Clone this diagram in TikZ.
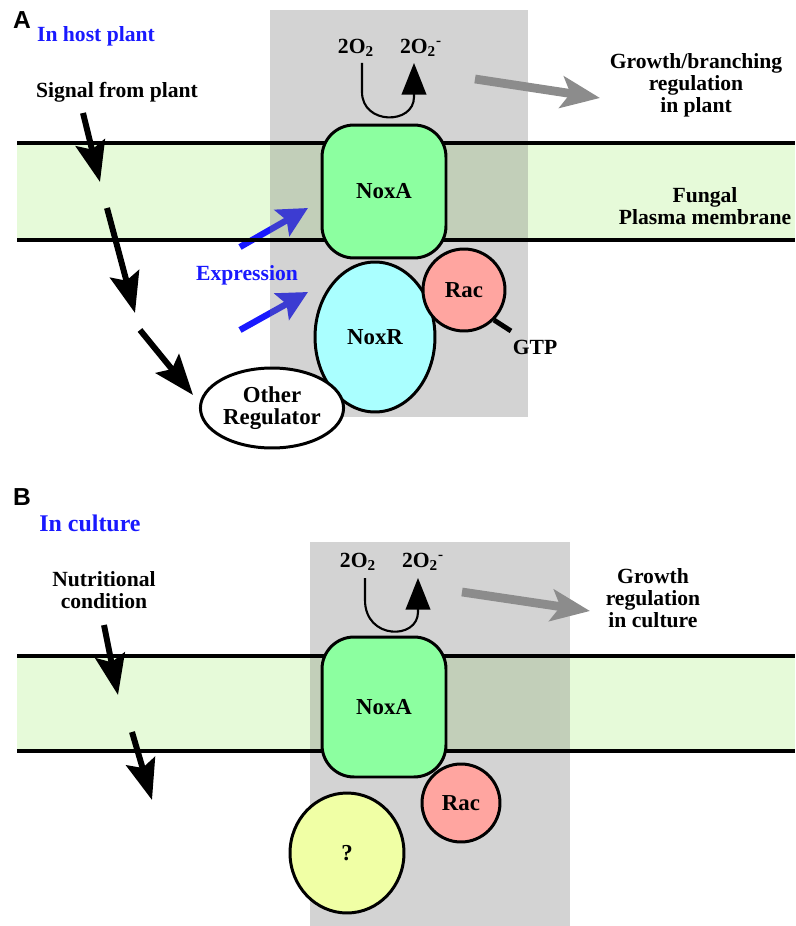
\documentclass[tikz,border=0pt]{standalone}
\usepackage{fontspec}
\setmainfont{Liberation Serif}
\setsansfont{Liberation Sans}
\usetikzlibrary{arrows.meta,shapes.geometric}
\definecolor{memgreen}{RGB}{230,250,217}
\definecolor{noxagreen}{RGB}{140,255,160}
\definecolor{noxrcyan}{RGB}{170,255,255}
\definecolor{racpink}{RGB}{255,165,160}
\definecolor{unkyellow}{RGB}{240,255,165}
\definecolor{exblue}{RGB}{25,25,255}
\definecolor{arrgray}{RGB}{140,140,140}
\tikzset{
  lbl/.style={font=\bfseries\fontsize{12.3}{12.6}\selectfont, align=center, inner sep=1pt},
  prot/.style={draw, line width=1.7pt, font=\bfseries\fontsize{13}{12.6}\selectfont, align=center, inner sep=1pt},
  noxa/.style={prot, fill=noxagreen, rounded corners=0.64cm, minimum width=2.48cm},
  graybox/.style={fill=gray, opacity=0.35},
  memline/.style={line width=2pt},
  sig/.style={line width=3.4pt, -{Stealth[length=23pt,width=17pt,inset=4pt]}},
  expr/.style={draw=exblue, line width=3.6pt, -{Stealth[length=17pt,width=17pt,inset=3pt]}},
  effect/.style={draw=arrgray, line width=5pt, -{Stealth[length=22pt,width=18pt,inset=5pt]}},
  uarr/.style={line width=1.2pt, -{Triangle[length=18pt,width=14pt]}}
}
\begin{document}
\begin{tikzpicture}[x=0.02cm,y=-0.02cm]
    \useasboundingbox (0,0) rectangle (795,926);
    \fill[memgreen] (17,143) rectangle (795,240);
    \fill[memgreen] (17,656) rectangle (795,751);

    \coordinate (xA1) at (240,247); \coordinate (xA2) at (308,208);
    \coordinate (xB1) at (240,330); \coordinate (xB2) at (308,292);
    \draw[expr] (xA1) -- (xA2);
    \draw[expr] (xB1) -- (xB2);

    \fill[graybox] (270,10) rectangle (528,417);
    \fill[graybox] (310,542) rectangle (570,926);
    \foreach \y in {143,240,656,751}
        \draw[memline] (17,\y) -- (795,\y);

    % panel A
    \node[noxa, minimum height=2.66cm] (noxaA) at (384,191.5) {NoxA};
    \node[prot, ellipse, fill=noxrcyan, minimum width=2.4cm, minimum height=3cm] (noxr) at (375,337) {NoxR};
    \node[prot, circle, fill=racpink, minimum size=1.64cm] (racA) at (464,290) {Rac};
    \node[prot, ellipse, fill=white, minimum width=2.7cm, minimum height=1.6cm] (other) at (272,408) {Other\\Regulator};
    \coordinate (gtpend) at (511,331);
    \draw[line width=2.8pt] (racA.-45) -- (gtpend);
    \node[lbl] (gtp) at (535,347) {GTP};

    \node[font=\sffamily\bfseries\fontsize{14}{14}\selectfont, inner sep=0pt] (labA) at (22,20) {A};
    \node[lbl, text=exblue] (host) at (96,36) {In host plant};
    \node[lbl] (signal) at (117,92) {Signal from plant};
    \node[lbl, text=exblue] (expression) at (247,275) {Expression};
    \node[lbl] (o2A) at (356,48) {2O\textsubscript{2}};
    \node[lbl] (o2mA) at (421,48) {2O\textsubscript{2}\textsuperscript{-}};
    \node[lbl] (growthA) at (696,85) {Growth/branching\\regulation\\in plant};
    \node[lbl] (membrane) at (705,206) {Fungal\\Plasma membrane};

    \coordinate (sA1) at (83,113);  \coordinate (tA1) at (100,182);
    \coordinate (sA2) at (107,208); \coordinate (tA2) at (135,313);
    \coordinate (sA3) at (140,330); \coordinate (tA3) at (193,395);
    \draw[sig] (sA1) -- (tA1);
    \draw[sig] (sA2) -- (tA2);
    \draw[sig] (sA3) -- (tA3);

    \coordinate (uA1) at (362,63); \coordinate (uA2) at (414,63);
    \draw[uarr] (uA1) -- (362,92) .. controls (362,125) and (414,125) .. (414,97) -- (uA2);
    \coordinate (gA1) at (475,79); \coordinate (gA2) at (600,98);
    \draw[effect] (gA1) -- (gA2);

    % panel B
    \node[noxa, minimum height=2.8cm] (noxaB) at (384,707) {NoxA};
    \node[prot, circle, fill=racpink, minimum size=1.56cm] (racB) at (461,803) {Rac};
    \node[prot, ellipse, fill=unkyellow, minimum width=2.28cm, minimum height=2.4cm] (unknown) at (347,853) {?};

    \node[font=\sffamily\bfseries\fontsize{14}{14}\selectfont, inner sep=0pt] (labB) at (22,497) {B};
    \node[lbl, text=exblue, font=\bfseries\fontsize{13.6}{14}\selectfont] (culture) at (90,523) {In culture};
    \node[lbl] (nutrition) at (104,590) {Nutritional\\condition};
    \node[lbl] (o2B) at (358,562) {2O\textsubscript{2}};
    \node[lbl] (o2mB) at (423,562) {2O\textsubscript{2}\textsuperscript{-}};
    \node[lbl] (growthB) at (653,598) {Growth\\regulation\\in culture};

    \coordinate (sB1) at (104,625); \coordinate (tB1) at (118,695);
    \coordinate (sB2) at (132,732); \coordinate (tB2) at (152,800);
    \draw[sig] (sB1) -- (tB1);
    \draw[sig] (sB2) -- (tB2);

    \coordinate (uB1) at (365,578); \coordinate (uB2) at (418,578);
    \draw[uarr] (uB1) -- (365,600) .. controls (365,640) and (418,640) .. (418,612) -- (uB2);
    \coordinate (gB1) at (462,592); \coordinate (gB2) at (590,611);
    \draw[effect] (gB1) -- (gB2);
\end{tikzpicture}
\end{document}
